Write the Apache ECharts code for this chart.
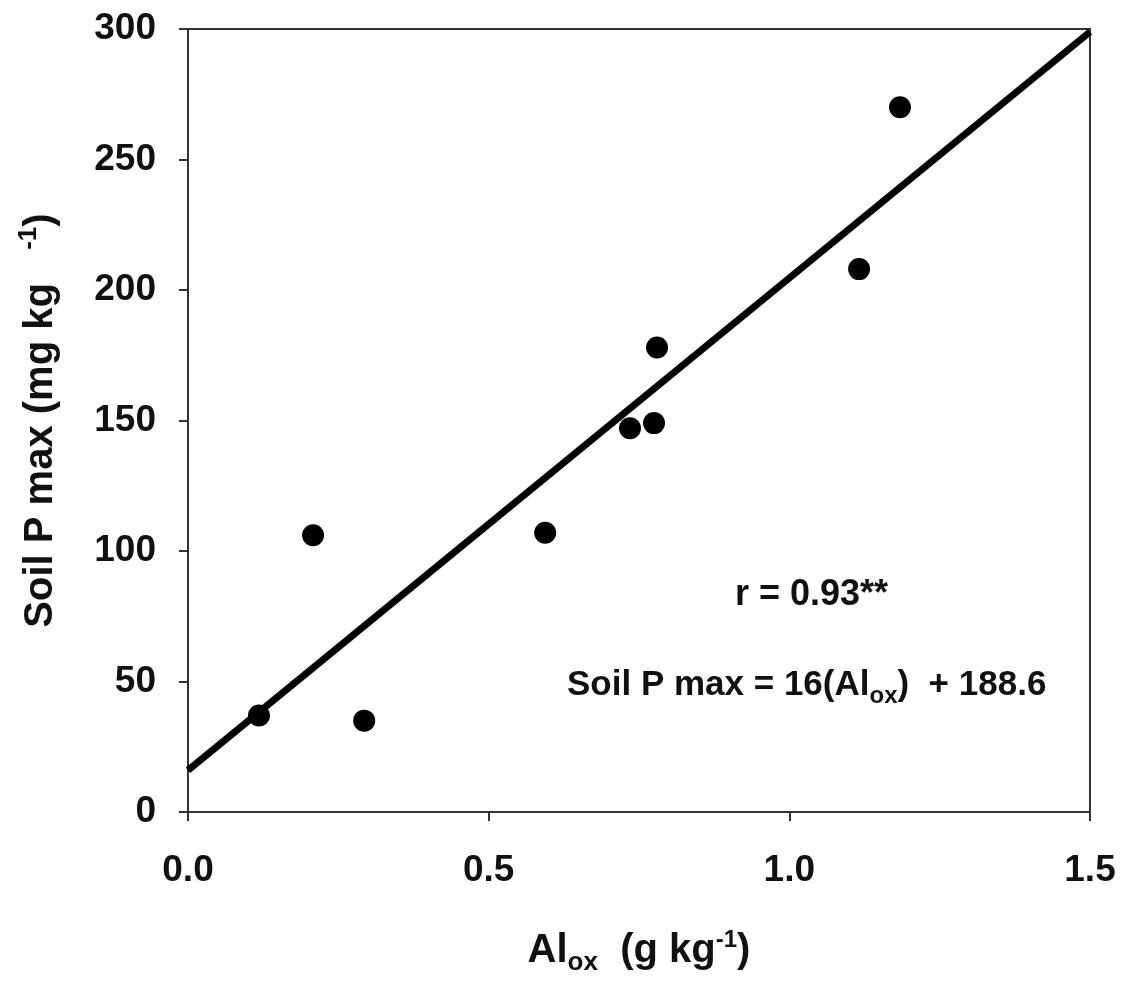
<!DOCTYPE html>
<html>
<head>
<meta charset="utf-8">
<script src="https://cdn.jsdelivr.net/npm/echarts@6/dist/echarts.min.js"></script>
<style>
  html, body { margin: 0; padding: 0; background: #ffffff; }
  #chart { width: 1131px; height: 982px; }
</style>
</head>
<body>
<div id="chart"></div>
<script>
// Oxalate-extractable Al (g/kg) vs. soil P sorption maximum (mg/kg)
const alOx = [0.118, 0.208, 0.293, 0.594, 0.735, 0.775, 0.780, 1.116, 1.184];
const soilPmax = [37, 106, 35, 107, 147, 149, 178, 208, 270];

// Fitted regression line: Soil P max = 16 + 188.6 * Al_ox
const fitIntercept = 16;
const fitSlope = 188.6;
const fitRange = [0, 1.5];

const xTicks = [0.0, 0.5, 1.0, 1.5];
const yTicks = [0, 50, 100, 150, 200, 250, 300];

const rText = 'r = 0.93**';

const FONT = '"Liberation Sans", Arial, sans-serif';
const INK = '#111111';

const points = alOx.map((x, i) => [x, soilPmax[i]]);
const fitLine = fitRange.map(x => [x, fitIntercept + fitSlope * x]);

const chart = echarts.init(document.getElementById('chart'), null, { renderer: 'canvas' });

chart.setOption({
  backgroundColor: '#ffffff',
  animation: false,
  grid: {
    left: 188, right: 41, top: 29, bottom: 170,
    show: true, borderColor: '#333333', borderWidth: 2, backgroundColor: 'transparent'
  },
  xAxis: {
    type: 'value',
    min: xTicks[0], max: xTicks[xTicks.length - 1], interval: 0.5,
    name: 'Al{sub|ox}  (g kg{sup|-1})',
    nameLocation: 'middle',
    nameGap: 114,
    nameTextStyle: {
      fontFamily: FONT, fontWeight: 'bold', fontSize: 40, color: INK,
      rich: {
        sub: { fontFamily: FONT, fontWeight: 'bold', fontSize: 26, color: INK, padding: [24, 0, 0, 0] },
        sup: { fontFamily: FONT, fontWeight: 'bold', fontSize: 24, color: INK, padding: [0, 0, 22, 0] }
      }
    },
    axisLine: { show: true, onZero: false, lineStyle: { color: '#333333', width: 2 } },
    axisTick: { show: true, inside: false, length: 9, lineStyle: { color: '#333333', width: 2 } },
    axisLabel: {
      margin: 40, fontFamily: FONT, fontWeight: 'bold', fontSize: 37, color: INK,
      formatter: v => v.toFixed(1)
    },
    splitLine: { show: false }
  },
  yAxis: {
    type: 'value',
    min: yTicks[0], max: yTicks[yTicks.length - 1], interval: 50,
    name: 'Soil P max (mg kg   {sup|-1})',
    nameLocation: 'middle',
    nameGap: 122,
    nameTextStyle: {
      fontFamily: FONT, fontWeight: 'bold', fontSize: 40, color: INK,
      rich: {
        sup: { fontFamily: FONT, fontWeight: 'bold', fontSize: 26, color: INK, padding: [0, 0, 24, 0] }
      }
    },
    axisLine: { show: true, onZero: false, lineStyle: { color: '#333333', width: 2 } },
    axisTick: { show: true, inside: false, length: 9, lineStyle: { color: '#333333', width: 2 } },
    axisLabel: {
      margin: 32, fontFamily: FONT, fontWeight: 'bold', fontSize: 37, color: INK
    },
    splitLine: { show: false }
  },
  series: [
    {
      name: 'fit',
      type: 'line',
      data: fitLine,
      showSymbol: false,
      symbol: 'none',
      lineStyle: { color: '#000000', width: 7 },
      z: 2
    },
    {
      name: 'samples',
      type: 'scatter',
      data: points,
      symbol: 'circle',
      symbolSize: 22,
      itemStyle: { color: '#000000', opacity: 1 },
      z: 3
    }
  ],
  graphic: [
    {
      type: 'text',
      left: 735, top: 577,
      style: {
        text: rText,
        fontFamily: FONT, fontWeight: 'bold', fontSize: 36, fill: INK
      }
    },
    {
      type: 'text',
      left: 567, top: 668,
      style: {
        text: 'Soil P max = 16(Al{sub|ox})  + 188.6',
        fontFamily: FONT, fontWeight: 'bold', fontSize: 35, fill: INK,
        rich: {
          sub: { fontFamily: FONT, fontWeight: 'bold', fontSize: 24, fill: INK, padding: [22, 0, 0, 0] }
        }
      }
    }
  ]
});
</script>
</body>
</html>
